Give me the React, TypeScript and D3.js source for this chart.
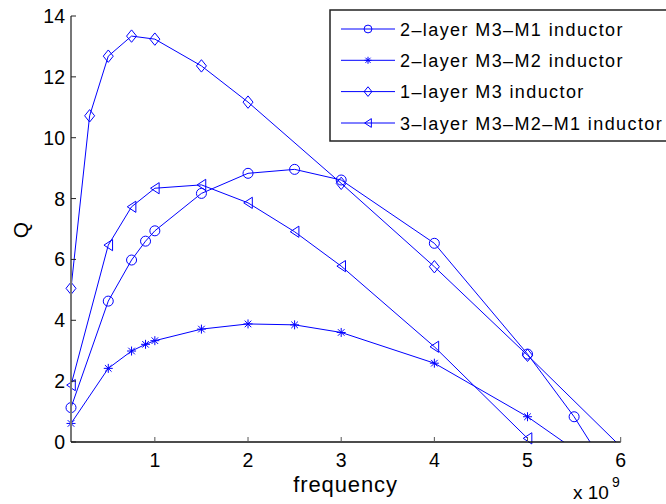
import React from "react";
import * as d3 from "d3";

const seriesNames = [
  "2\u2013layer M3\u2013M1 inductor",
  "2\u2013layer M3\u2013M2 inductor",
  "1\u2013layer M3 inductor",
  "3\u2013layer M3\u2013M2\u2013M1 inductor",
];
const markers = ["circle", "star", "diamond", "triangle"];

const freqM3M1 = [0.1, 0.5, 0.75, 0.9, 1.0, 1.5, 2.0, 2.5, 3.0, 4.0, 5.0, 5.5, 6.0];
const qM3M1 = [1.13, 4.63, 5.98, 6.6, 6.94, 8.17, 8.83, 8.96, 8.61, 6.53, 2.89, 0.83, -1.59];

const freqM3M2 = [0.1, 0.5, 0.75, 0.9, 1.0, 1.5, 2.0, 2.5, 3.0, 4.0, 5.0, 6.0];
const qM3M2 = [0.61, 2.42, 2.99, 3.21, 3.33, 3.71, 3.88, 3.85, 3.6, 2.59, 0.83, -1.31];

const freqM3 = [0.1, 0.3, 0.5, 0.75, 1.0, 1.5, 2.0, 3.0, 4.0, 5.0, 6.0];
const qM3 = [5.05, 10.72, 12.68, 13.34, 13.24, 12.36, 11.17, 8.5, 5.76, 2.85, -0.15];

const freqM3M2M1 = [0.1, 0.5, 0.75, 1.0, 1.5, 2.0, 2.5, 3.0, 4.0, 5.0];
const qM3M2M1 = [1.87, 6.47, 7.73, 8.34, 8.45, 7.86, 6.91, 5.78, 3.13, 0.12];

const xTicks = [1, 2, 3, 4, 5, 6];
const yTicks = [0, 2, 4, 6, 8, 10, 12, 14];

const seriesFreqs = [freqM3M1, freqM3M2, freqM3, freqM3M2M1];
const seriesQ = [qM3M1, qM3M2, qM3, qM3M2M1];

const BLUE = "#0000ff";
const FONT = "'Liberation Sans', Arial, Helvetica, sans-serif";

function Marker({ type, x, y, s = 1 }: { type: string; x: number; y: number; s?: number }) {
  const common = { fill: "none", stroke: BLUE, strokeWidth: 1 };
  if (type === "circle") return <circle cx={x} cy={y} r={5 * s} {...common} />;
  if (type === "diamond") {
    const w = 5 * s, h = 6.2 * s;
    return <path d={`M${x},${y - h}L${x + w},${y}L${x},${y + h}L${x - w},${y}Z`} {...common} />;
  }
  if (type === "triangle") {
    const w = 4.3 * s, h = 5.6 * s;
    return <path d={`M${x - w},${y}L${x + w},${y - h}L${x + w},${y + h}Z`} {...common} />;
  }
  const a = 4.5 * s, b = 3.3 * s;
  return (
    <path
      d={`M${x - a},${y}L${x + a},${y}M${x},${y - a}L${x},${y + a}M${x - b},${y - b}L${x + b},${y + b}M${x - b},${y + b}L${x + b},${y - b}`}
      {...common}
    />
  );
}

export default function App() {
  const W = 666, H = 504;
  const left = 71, right = 620.7, top = 16, bottom = 442;
  const x = d3.scaleLinear().domain([0.1, 6]).range([left, right]);
  const y = d3.scaleLinear().domain([0, 14]).range([bottom, top]);
  const line = d3
    .line<[number, number]>()
    .x((d) => x(d[0]))
    .y((d) => y(d[1]));

  const legendRows = [29, 60.3, 91.6, 123];

  return (
    <div style={{ position: "absolute", left: 0, top: 0 }}>
      <svg width={W} height={H} style={{ display: "block", background: "#fff" }} fontFamily={FONT}>
        <defs>
          <clipPath id="plotclip">
            <rect x={left} y={top - 2} width={right - left} height={bottom - top + 2} />
          </clipPath>
        </defs>
        <rect x={0} y={0} width={W} height={H} fill="#fff" />

        {/* series */}
        {seriesFreqs.map((fs, i) => {
          const pts: [number, number][] = fs.map((f, j) => [f, seriesQ[i][j]]);
          return (
            <g key={i}>
              <path d={line(pts) || ""} fill="none" stroke={BLUE} strokeWidth={1} clipPath="url(#plotclip)" />
              {pts
                .filter((p) => p[1] >= 0 && p[1] <= 14 && p[0] <= 6)
                .map((p, j) => (
                  <Marker key={j} type={markers[i]} x={x(p[0])} y={y(p[1])} />
                ))}
            </g>
          );
        })}

        {/* axes */}
        <line x1={left} x2={left} y1={top} y2={bottom} stroke="#777" strokeWidth={2} />
        <line x1={left} x2={right} y1={bottom} y2={bottom} stroke="#111" strokeWidth={1.3} />
        {yTicks.map((t) => (
          <g key={t}>
            <line x1={left} x2={left + 5} y1={y(t)} y2={y(t)} stroke="#222" strokeWidth={1} />
            <text x={65} y={y(t) + 7} textAnchor="end" fontSize={19.5} fill="#000">
              {t}
            </text>
          </g>
        ))}
        {xTicks.map((t) => (
          <g key={t}>
            <line x1={x(t)} x2={x(t)} y1={bottom} y2={bottom - 5} stroke="#555" strokeWidth={1} />
            <text x={x(t)} y={467} textAnchor="middle" fontSize={19.5} fill="#000">
              {t}
            </text>
          </g>
        ))}

        <text x={345.5} y={492} textAnchor="middle" fontSize={22} letterSpacing={0.9} fill="#000">
          frequency
        </text>
        <text transform="translate(28,230) rotate(-90)" textAnchor="middle" fontSize={21} fill="#000">
          Q
        </text>
        <text x={573} y={499} fontSize={19} fill="#000">
          x 10
        </text>
        <text x={612} y={487} fontSize={14} fill="#000">
          9
        </text>

        {/* legend */}
        <rect x={330} y={10} width={345} height={131} fill="#fff" stroke="#222" strokeWidth={1.5} />
        {seriesNames.map((n, i) => (
          <g key={n}>
            <line x1={341} x2={395} y1={legendRows[i]} y2={legendRows[i]} stroke={BLUE} strokeWidth={1} />
            <Marker type={markers[i]} x={368} y={legendRows[i]} s={0.78} />
            <text x={400} y={legendRows[i] + 6.5} fontSize={18} letterSpacing={1.4} fill="#000">
              {n}
            </text>
          </g>
        ))}
      </svg>
    </div>
  );
}
